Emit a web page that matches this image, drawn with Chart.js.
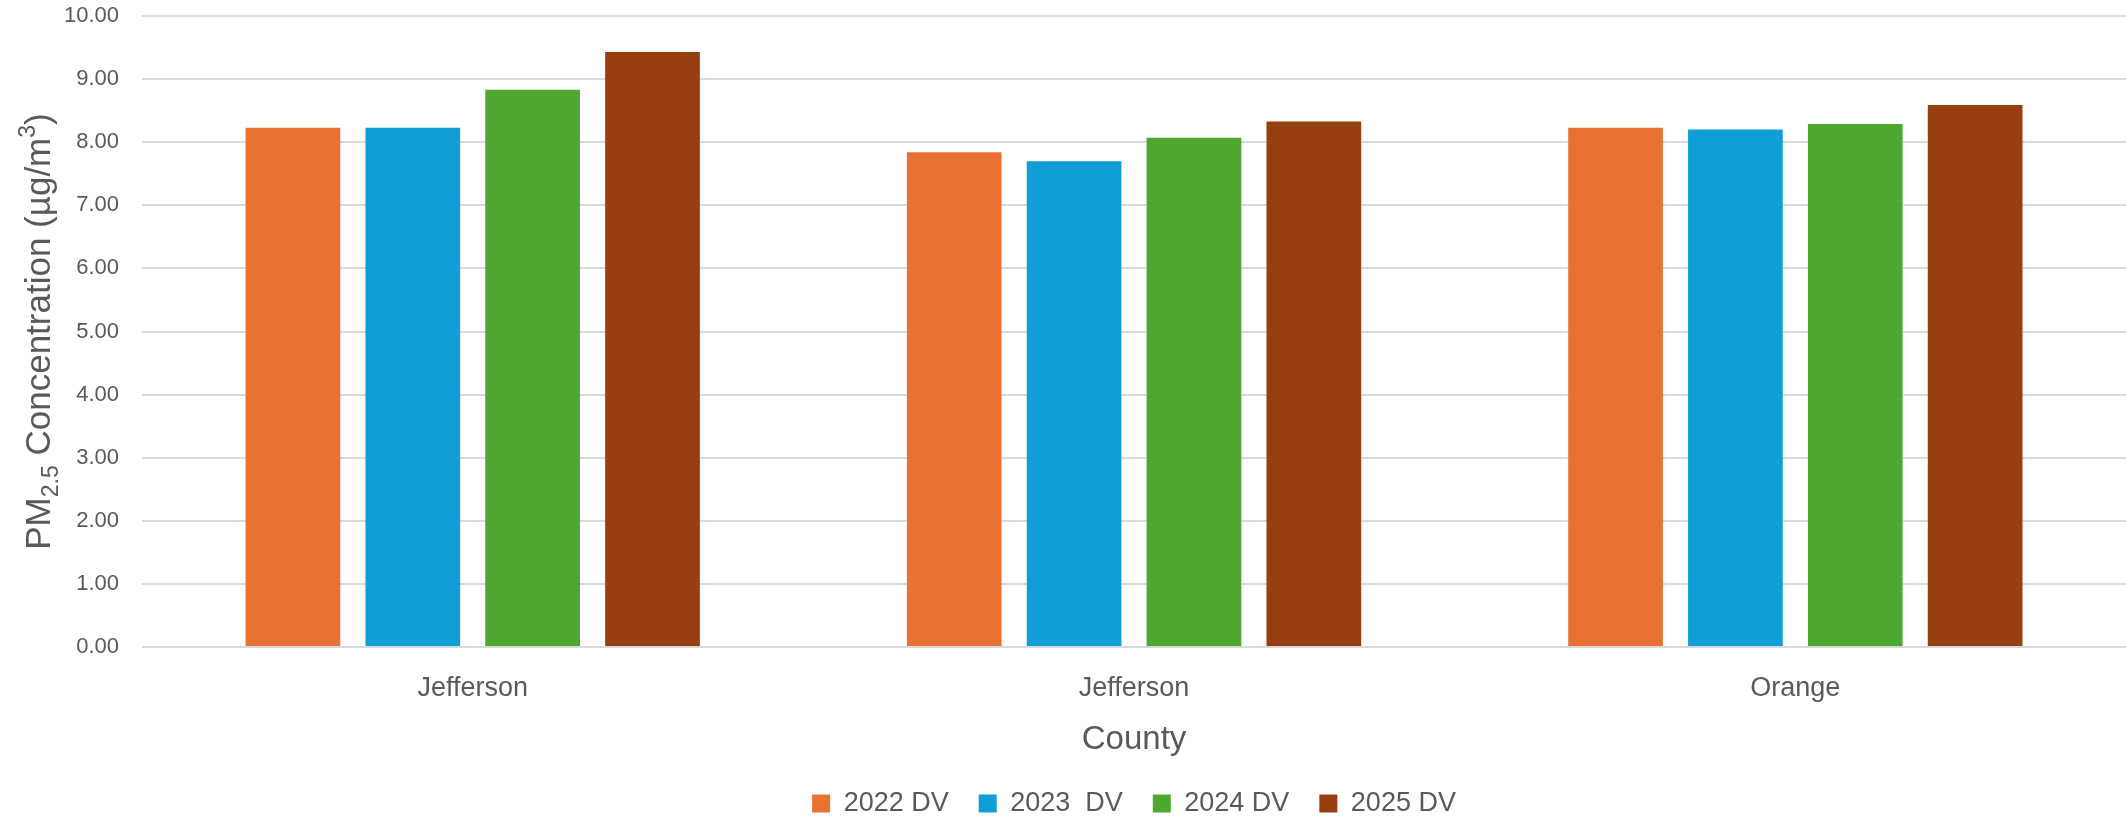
<!DOCTYPE html>
<html>
<head>
<meta charset="utf-8">
<script src="https://cdn.jsdelivr.net/npm/chart.js@4/dist/chart.umd.min.js"></script>
<style>
  html, body { margin: 0; padding: 0; background: #fff; }
  #wrap { width: 2126px; height: 817px; }
</style>
</head>
<body>
<div id="wrap"><canvas id="chart1"></canvas></div>
<script>
var counties = ['Jefferson', 'Jefferson', 'Orange'];
var seriesNames = ['2022 DV', '2023  DV', '2024 DV', '2025 DV'];
var dv2022 = [8.23, 7.84, 8.23];
var dv2023 = [8.23, 7.70, 8.20];
var dv2024 = [8.83, 8.07, 8.29];
var dv2025 = [9.43, 8.33, 8.59];
var yTicks = [0, 1, 2, 3, 4, 5, 6, 7, 8, 9, 10];

var colors = ['#E97132', '#0F9ED5', '#4EA72E', '#973F11'];
var textColor = '#595959';
var fontFamily = "'Liberation Sans', Arial, sans-serif";

// rotated y title with sub/superscripts
var yTitlePlugin = {
    id: 'yTitle',
    afterDraw: function(chart) {
        var ctx = chart.ctx;
        var area = chart.chartArea;
        var parts = [
            { t: 'PM', size: 35, dy: 0 },
            { t: '2.5', size: 23, dy: 8 },
            { t: ' Concentration (µg/m', size: 35, dy: 0 },
            { t: '3', size: 23, dy: -15 },
            { t: ')', size: 35, dy: 0 }
        ];
        ctx.save();
        var total = 0;
        parts.forEach(function(p) {
            ctx.font = p.size + 'px ' + fontFamily;
            p.w = ctx.measureText(p.t).width;
            total += p.w;
        });
        ctx.translate(50, (area.top + area.bottom) / 2);
        ctx.rotate(-Math.PI / 2);
        ctx.fillStyle = textColor;
        ctx.textBaseline = 'alphabetic';
        var x = -total / 2;
        parts.forEach(function(p) {
            ctx.font = p.size + 'px ' + fontFamily;
            ctx.fillText(p.t, x, p.dy);
            x += p.w;
        });
        ctx.restore();
    }
};

var allData = [dv2022, dv2023, dv2024, dv2025];
var datasets = seriesNames.map(function(name, i) {
    return {
        label: name,
        data: allData[i],
        backgroundColor: colors[i],
        borderWidth: 0,
        barPercentage: 0.79,
        categoryPercentage: 0.725
    };
});

var ctx1 = document.getElementById('chart1').getContext('2d');
var chart1 = new Chart(ctx1, {
    type: 'bar',
    data: {
        labels: counties,
        datasets: datasets
    },
    options: {
        responsive: true,
        maintainAspectRatio: false,
        animation: false,
        layout: {
            padding: { left: 41, top: 16, right: 0, bottom: -10 }
        },
        plugins: {
            legend: {
                position: 'bottom',
                fullSize: false,
                labels: {
                    color: textColor,
                    font: { family: fontFamily, size: 27 },
                    boxWidth: 18,
                    boxHeight: 18,
                    padding: 30
                }
            },
            tooltip: { enabled: false }
        },
        scales: {
            x: {
                grid: { display: false },
                border: { display: false },
                ticks: {
                    color: textColor,
                    font: { family: fontFamily, size: 27 },
                    padding: 17
                },
                title: {
                    display: true,
                    text: 'County',
                    color: textColor,
                    font: { family: fontFamily, size: 33 },
                    padding: { top: -1, bottom: 0 }
                }
            },
            y: {
                min: 0,
                max: 10,
                afterBuildTicks: function(axis) {
                    axis.ticks = yTicks.map(function(v) { return { value: v }; });
                },
                afterFit: function(axis) {
                    axis.paddingTop = 0;
                    axis.paddingBottom = 0;
                },
                grid: { color: '#d9d9d9', lineWidth: 2, drawTicks: false },
                border: { display: false },
                ticks: {
                    color: textColor,
                    font: { family: fontFamily, size: 22 },
                    padding: 23,
                    callback: function(v) { return Number(v).toFixed(2); }
                }
            }
        }
    },
    plugins: [yTitlePlugin]
});
</script>
</body>
</html>
